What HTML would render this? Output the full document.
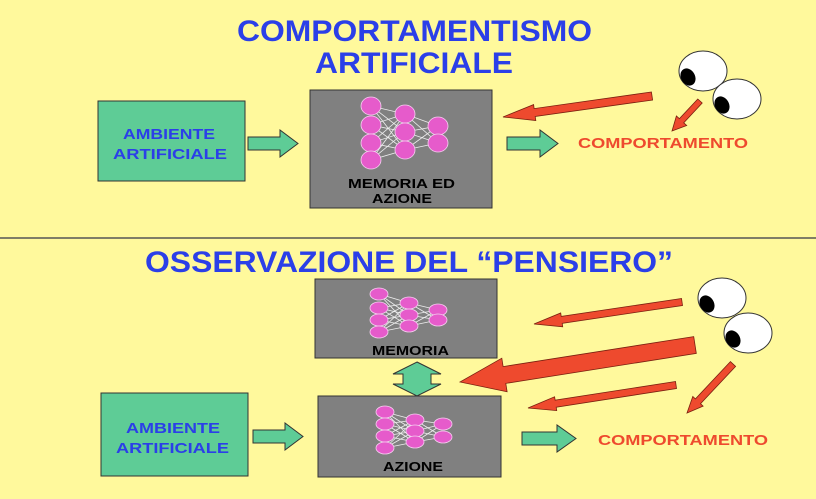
<!DOCTYPE html>
<html><head><meta charset="utf-8"><style>
html,body{margin:0;padding:0;background:#FFF99C;}
svg{display:block;}
text{font-family:"Liberation Sans",Arial,sans-serif;font-weight:bold;}
</style></head><body>
<svg id="s" width="816" height="499" viewBox="0 0 816 499" xmlns="http://www.w3.org/2000/svg">
<rect width="816" height="499" fill="#FFF99C"/>
<text x="237" y="41" font-size="30" fill="#2B3FE8" textLength="355" lengthAdjust="spacingAndGlyphs">COMPORTAMENTISMO</text>
<text x="315" y="73" font-size="30" fill="#2B3FE8" textLength="198" lengthAdjust="spacingAndGlyphs">ARTIFICIALE</text>
<rect x="98" y="101" width="147" height="80" fill="#5ECC96" stroke="#333" stroke-width="1"/>
<text x="123" y="139" font-size="15" fill="#2B3FE8" textLength="92" lengthAdjust="spacingAndGlyphs">AMBIENTE</text>
<text x="113" y="159" font-size="15" fill="#2B3FE8" textLength="114" lengthAdjust="spacingAndGlyphs">ARTIFICIALE</text>
<path d="M248,137 L280,137 L280,130 L298,143.5 L280,157 L280,150 L248,150 Z" fill="#5ECC96" stroke="#333" stroke-width="1"/>
<rect x="310" y="90" width="182" height="118" fill="#808080" stroke="#333" stroke-width="1"/>
<text x="348" y="188" font-size="13" fill="#000" textLength="107" lengthAdjust="spacingAndGlyphs">MEMORIA ED</text>
<text x="372" y="203" font-size="13" fill="#000" textLength="60" lengthAdjust="spacingAndGlyphs">AZIONE</text>
<path d="M507,137 L540,137 L540,130 L558,143.5 L540,157 L540,150 L507,150 Z" fill="#5ECC96" stroke="#333" stroke-width="1"/>
<text x="578" y="148" font-size="15" fill="#EE4A2E" textLength="170" lengthAdjust="spacingAndGlyphs">COMPORTAMENTO</text>
<line x1="0" y1="238" x2="816" y2="238" stroke="#555" stroke-width="1.5"/>
<text x="145" y="272" font-size="30" fill="#2B3FE8" textLength="528" lengthAdjust="spacingAndGlyphs">OSSERVAZIONE DEL “PENSIERO”</text>
<rect x="315" y="279" width="182" height="79" fill="#808080" stroke="#333" stroke-width="1"/>
<text x="372" y="355" font-size="13" fill="#000" textLength="77" lengthAdjust="spacingAndGlyphs">MEMORIA</text>
<path d="M417,362 L441,374 L431,374 L431,384 L441,384 L417,396 L393,384 L403,384 L403,374 L393,374 Z" fill="#5ECC96" stroke="#333" stroke-width="1"/>
<rect x="318" y="396" width="183" height="81" fill="#808080" stroke="#333" stroke-width="1"/>
<text x="383" y="471" font-size="13" fill="#000" textLength="60" lengthAdjust="spacingAndGlyphs">AZIONE</text>
<rect x="101" y="393" width="147" height="83" fill="#5ECC96" stroke="#333" stroke-width="1"/>
<text x="126" y="433" font-size="15" fill="#2B3FE8" textLength="94" lengthAdjust="spacingAndGlyphs">AMBIENTE</text>
<text x="116" y="453" font-size="15" fill="#2B3FE8" textLength="113" lengthAdjust="spacingAndGlyphs">ARTIFICIALE</text>
<path d="M253,430 L285,430 L285,423 L303,436.5 L285,450 L285,443 L253,443 Z" fill="#5ECC96" stroke="#333" stroke-width="1"/>
<path d="M522,432 L557,432 L557,425 L576,438.5 L557,452 L557,445 L522,445 Z" fill="#5ECC96" stroke="#333" stroke-width="1"/>
<text x="598" y="445" font-size="15" fill="#EE4A2E" textLength="170" lengthAdjust="spacingAndGlyphs">COMPORTAMENTO</text>
<g id="arrows"></g>
<g id="nets"></g>
<g stroke="#333" stroke-width="1">
<ellipse cx="703" cy="71" rx="24" ry="20" fill="#fff"/>
<ellipse cx="737" cy="99" rx="24" ry="20" fill="#fff"/>
<ellipse cx="722" cy="298" rx="24" ry="20" fill="#fff"/>
<ellipse cx="748" cy="333" rx="24" ry="20" fill="#fff"/>
</g>
<g fill="#000">
<ellipse cx="688" cy="77" rx="7" ry="9" transform="rotate(-30 688 77)"/>
<ellipse cx="722" cy="105" rx="7" ry="9" transform="rotate(-30 722 105)"/>
<ellipse cx="707" cy="304" rx="7" ry="9" transform="rotate(-30 707 304)"/>
<ellipse cx="733" cy="339" rx="7" ry="9" transform="rotate(-30 733 339)"/>
</g>
</svg>
<script>
var NS="http://www.w3.org/2000/svg";
function arrow(x1,y1,x2,y2,w,hw,hl){
 var dx=x2-x1,dy=y2-y1,L=Math.hypot(dx,dy),ux=dx/L,uy=dy/L,nx=-uy,ny=ux;
 var bx=x2-ux*hl,by=y2-uy*hl;
 var p=[[x1+nx*w/2,y1+ny*w/2],[bx+nx*w/2,by+ny*w/2],[bx+nx*hw/2,by+ny*hw/2],[x2,y2],[bx-nx*hw/2,by-ny*hw/2],[bx-nx*w/2,by-ny*w/2],[x1-nx*w/2,y1-ny*w/2]];
 var e=document.createElementNS(NS,"polygon");
 e.setAttribute("points",p.map(function(q){return q[0].toFixed(1)+","+q[1].toFixed(1)}).join(" "));
 e.setAttribute("fill","#EE4A2E");e.setAttribute("stroke","#7a2010");e.setAttribute("stroke-width","0.8");
 document.getElementById("arrows").appendChild(e);
}
arrow(652,96,503,117,8,16,32);
arrow(700,101,672,131,6,14,14);
arrow(682,302,534,324,7,14,28);
arrow(695,345,460,382,17,34,45);
arrow(676,385,528,408,7,14,28);
arrow(733,364,687,413,7,14,16);
function net(cols,rx,ry){
 var g=document.getElementById("nets");
 for(var c=0;c<cols.length-1;c++){
  cols[c].forEach(function(a){cols[c+1].forEach(function(b){
   var l=document.createElementNS(NS,"line");
   l.setAttribute("x1",a[0]);l.setAttribute("y1",a[1]);l.setAttribute("x2",b[0]);l.setAttribute("y2",b[1]);
   l.setAttribute("stroke","#eee");l.setAttribute("stroke-width","0.8");g.appendChild(l);});});
 }
 cols.forEach(function(col){col.forEach(function(a){
  var e=document.createElementNS(NS,"ellipse");
  e.setAttribute("cx",a[0]);e.setAttribute("cy",a[1]);e.setAttribute("rx",rx);e.setAttribute("ry",ry);
  e.setAttribute("fill","#E65BCB");e.setAttribute("stroke","#f5d0f0");e.setAttribute("stroke-width","0.8");g.appendChild(e);});});
}
function mk(xs,ys){return xs.map(function(x,i){return ys[i].map(function(y){return [x,y]})});}
net(mk([371,405,438],[[106,125,143,160],[114,132,150],[126,143]]),10,9);
net(mk([379,409,438],[[294,308,320,332],[303,315,326],[310,320]]),9,6);
net(mk([385,415,443],[[412,424,436,448],[420,431,442],[424,437]]),9,6);
</script>
</body></html>
